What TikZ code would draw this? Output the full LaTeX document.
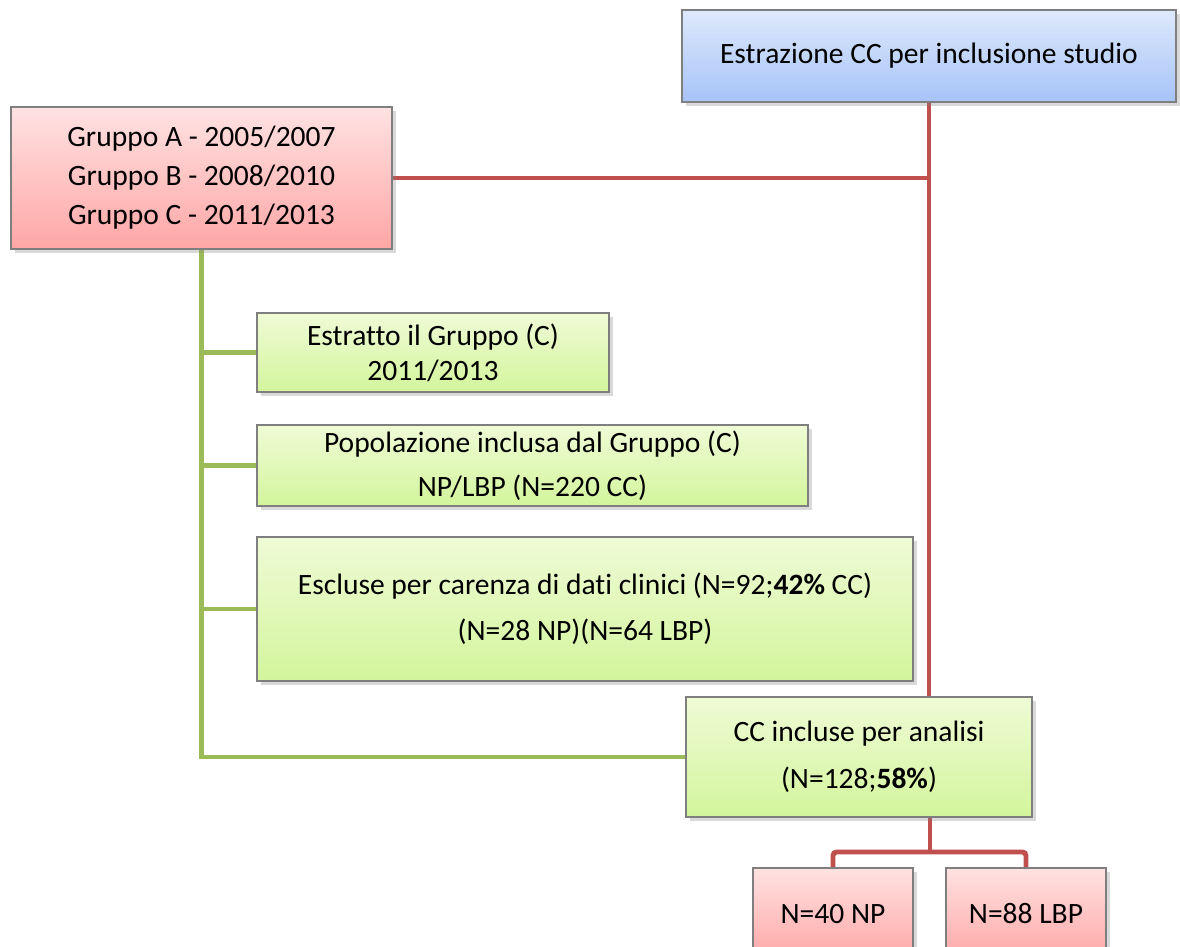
\documentclass[tikz,border=0pt]{standalone}
\usepackage{fontspec}
\setmainfont[Ligatures=NoCommon]{Carlito}
\usetikzlibrary{positioning,shadows,calc}
\pgfdeclarelayer{edgelayer}
\pgfdeclarelayer{nodelayer}
\pgfsetlayers{edgelayer,nodelayer,main}
\definecolor{bluetop}{HTML}{DEE9FC}
\definecolor{bluebot}{HTML}{A6C3F8}
\definecolor{redtop}{HTML}{FFE2E2}
\definecolor{redbot}{HTML}{FFA6A6}
\definecolor{greentop}{HTML}{EFFBD6}
\definecolor{greenbot}{HTML}{D3F59C}
\definecolor{redline}{HTML}{C0504D}
\definecolor{greenline}{HTML}{9BBB59}
\definecolor{boxline}{HTML}{7F7F7F}
\tikzset{font=\fontsize{16.8}{22}\selectfont}
\tikzstyle{none}=[inner sep=0pt]
\tikzstyle{box}=[rectangle,draw=boxline,line width=0.6pt,inner sep=0pt,align=center,drop shadow={opacity=0.3,shadow xshift=2pt,shadow yshift=-2.5pt}]
\tikzstyle{bluebox}=[box,top color=bluetop,bottom color=bluebot]
\tikzstyle{redbox}=[box,top color=redtop,bottom color=redbot]
\tikzstyle{greenbox}=[box,top color=greentop,bottom color=greenbot]
\tikzstyle{redlink}=[-,draw=redline,line width=2.8pt]
\tikzstyle{greenlink}=[-,draw=greenline,line width=2.8pt]

\begin{document}
\begin{tikzpicture}
	\useasboundingbox (0,0) rectangle (23.6,-18.94);
	\begin{pgfonlayer}{nodelayer}
		\node [style=bluebox, minimum width=9.88cm, minimum height=1.84cm] (estr) at (18.58,-1.12) {Estrazione CC per inclusione studio};
		\node [style=redbox, minimum width=7.62cm, minimum height=2.84cm, font=\fontsize{16.8}{22.2}\selectfont] (gruppi) at (4.03,-3.56) {Gruppo A - 2005/2007\\Gruppo B - 2008/2010\\Gruppo C - 2011/2013};
		\node [style=greenbox, minimum width=7.04cm, minimum height=1.58cm, font=\fontsize{16.8}{19.9}\selectfont] (estratto) at (8.66,-7.05) {Estratto il Gruppo (C)\\2011/2013};
		\node [style=greenbox, minimum width=11.02cm, minimum height=1.62cm, font=\fontsize{16.8}{25}\selectfont] (pop) at (10.65,-9.31) {Popolazione inclusa dal Gruppo (C)\\NP/LBP (N=220 CC)};
		\node [style=greenbox, minimum width=13.12cm, minimum height=2.88cm, font=\fontsize{16.8}{26}\selectfont] (escluse) at (11.70,-12.18) {Escluse per carenza di dati clinici (N=92;\textbf{42\%} CC)\\(N=28 NP)(N=64 LBP)};
		\node [style=greenbox, minimum width=6.92cm, minimum height=2.40cm, font=\fontsize{16.8}{27}\selectfont] (incluse) at (17.18,-15.14) {CC incluse per analisi\\(N=128;\textbf{58\%})};
		\node [style=redbox, minimum width=3.2cm, minimum height=1.84cm] (np) at (16.66,-18.28) {N=40 NP};
		\node [style=redbox, minimum width=3.2cm, minimum height=1.84cm] (lbp) at (20.52,-18.28) {N=88 LBP};
		\node [style=none] (fork) at (18.6,-17.04) {};
	\end{pgfonlayer}
	\begin{pgfonlayer}{edgelayer}
		\draw [style=redlink] (estr.south) to (estr.south |- incluse.north);
		\draw [style=redlink] (gruppi.east) to (gruppi.east -| estr.south);
		\draw [style=greenlink] (gruppi.south) to (gruppi.south |- incluse.west) to (incluse.west);
		\draw [style=greenlink] (gruppi.south |- estratto.west) to (estratto.west);
		\draw [style=greenlink] (gruppi.south |- pop.west) to (pop.west);
		\draw [style=greenlink] (gruppi.south |- escluse.west) to (escluse.west);
		\draw [style=redlink] (fork |- incluse.south) to (fork.center);
		\draw [style=redlink, rounded corners=2pt] (np.north) |- (fork.center) -| (lbp.north);
	\end{pgfonlayer}
\end{tikzpicture}
\end{document}
